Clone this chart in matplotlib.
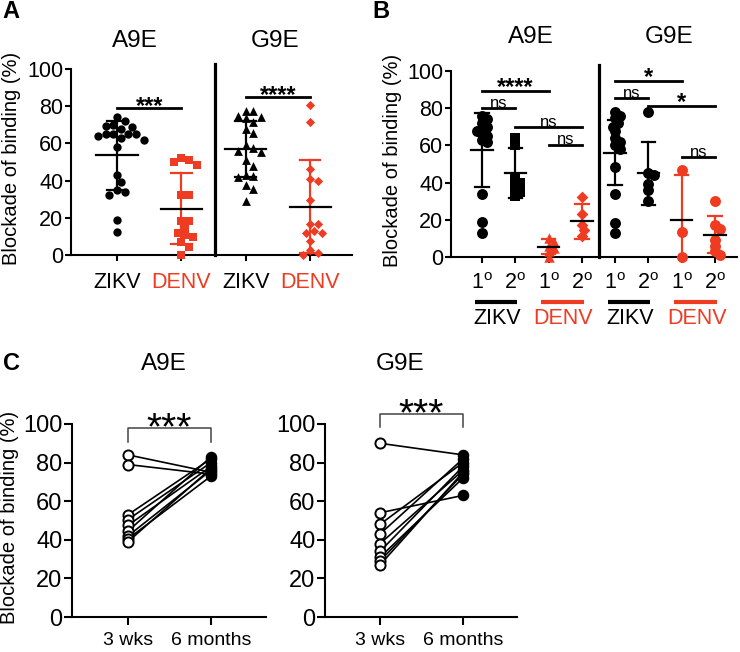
import numpy as np
import matplotlib
matplotlib.use('Agg')
import matplotlib.pyplot as plt

plt.rcParams['font.family'] = ['Liberation Sans', 'DejaVu Sans']
plt.rcParams['mathtext.fontset'] = 'custom'
plt.rcParams['mathtext.rm'] = 'Liberation Sans'

RED = '#EE3B22'
W, H = 740, 652

# ---- panel A data (blockade of binding %) ----
a_groups = ['ZIKV', 'DENV', 'ZIKV', 'DENV']
a9e_zikv = [74, 72, 70, 69.5, 69, 68, 65, 65, 65, 65, 64, 63, 62, 58, 43, 39, 35, 34, 32, 19, 12.5]
a9e_denv = [52, 51, 50, 48.5, 32.5, 32.5, 18.5, 18.5, 15, 12, 10.5, 9.5, 6.8, 4.5, 0]
g9e_zikv = [77.6, 77.6, 74.7, 74.4, 73.5, 71.7, 68, 65.4, 59, 57.3, 56, 55.6, 51, 47.8, 43, 42.5,
            41.8, 37.6, 35.3, 29.2]
g9e_denv = [80.5, 71.5, 46.5, 41, 40, 29.5, 16.5, 16.5, 13, 12, 12, 7.5, 2.7, 1, 0]
a_means = [53.5, 25, 57, 26]
a_sds = [18.5, 19.2, 15, 25]

# ---- panel B data: 1st / 2nd infection ----
b_ticks = ['1', '2', '1', '2', '1', '2', '1', '2']
b_virus = ['ZIKV', 'DENV', 'ZIKV', 'DENV']
b_vals = [
    [76, 74, 72, 70, 69, 68, 66, 65, 63, 62, 34, 19, 13],   # A9E ZIKV 1o
    [64, 60, 42, 40, 37, 35, 33],                            # A9E ZIKV 2o
    [10, 8, 6, 5, 3, 0],                                     # A9E DENV 1o
    [32, 23, 17, 14.5, 11.5],                                # A9E DENV 2o
    [78, 76, 74.5, 72, 70, 67.5, 64, 62, 60, 58, 48.5, 34, 18.5, 13],  # G9E ZIKV 1o
    [78, 45, 44, 39, 36, 30],                                # G9E ZIKV 2o
    [47, 13.5, 0],                                           # G9E DENV 1o
    [30, 17, 15, 9, 6, 3, 1],                                # G9E DENV 2o
]
b_means = [57.5, 45, 5.5, 19.2, 56, 45, 20, 12]
b_sds = [20, 13.5, 4, 9.3, 17.5, 17, 24, 10]

# ---- panel C data: paired 3 wks vs 6 months ----
c_times = ['3 wks', '6 months']
c_a9e_3w = [84, 79, 53, 50.5, 47.5, 44.5, 42, 40.5, 39]
c_a9e_6m = [75, 74, 82, 80, 78, 83, 76, 73, 77]
c_g9e_3w = [90, 54, 48, 43, 38, 34, 31, 29, 27]
c_g9e_6m = [84, 63, 80, 82, 76, 78, 72, 74, 75]


def fx(x):
    return x / W


def fy(y):
    return 1 - y / H


def swarm(vals, x0, px_x, px_y, d, step):
    # simple beeswarm: spread points that would overlap
    vals = np.asarray(vals, float)
    placed = []
    off = np.zeros(len(vals))
    cands = [0.0]
    for j in range(1, 30):
        cands += [j * step, -j * step]
    for i in np.argsort(-vals):
        y = vals[i] * px_y
        for c in cands:
            if all((c - px) ** 2 + (y - py) ** 2 >= d ** 2 for px, py in placed):
                break
        placed.append((c, y))
        off[i] = c
    return x0 + off / px_x


def style_axes(ax, lw=1.5):
    for s in ['top', 'right']:
        ax.spines[s].set_visible(False)
    for s in ['left', 'bottom']:
        ax.spines[s].set_linewidth(lw)
    ax.tick_params(width=lw, length=4.5)


def sd_bar(ax, x, m, sd, color, hw=0.32, cw=0.16, lw=1.6):
    ax.plot([x, x], [max(m - sd, 0), m + sd], color=color, lw=lw, zorder=4)
    ax.plot([x - cw, x + cw], [m + sd, m + sd], color=color, lw=lw, zorder=4)
    if m - sd > 0:
        ax.plot([x - cw, x + cw], [m - sd, m - sd], color=color, lw=lw, zorder=4)
    ax.plot([x - hw, x + hw], [m, m], color='black', lw=lw, zorder=4)


def sig(ax, x1, x2, y, txt, size=17, weight='bold', dy=-3.5, lw=2):
    ax.plot([x1, x2], [y, y], color='black', lw=lw, clip_on=False, zorder=5)
    ax.annotate(txt, xy=((x1 + x2) / 2, y), xytext=(0, dy), textcoords='offset points',
                ha='center', va='baseline', fontsize=size, fontweight=weight,
                annotation_clip=False)


fig = plt.figure(figsize=(7.4, 6.52), dpi=100)

# ================= Panel A =================
axA = fig.add_axes([fx(71), fy(255), 281 / W, 186 / H])
style_axes(axA)
axA.set_xlim(0.285, 4.65)
axA.set_ylim(0, 100)
axA.set_yticks(range(0, 101, 20))
axA.set_xticks([1, 2, 3, 4])
axA.set_xticklabels(a_groups)
for lab, c in zip(axA.get_xticklabels(), ['black', RED, 'black', RED]):
    lab.set_color(c)
axA.tick_params(axis='both', labelsize=15.5)
axA.tick_params(axis='x', pad=8)
axA.tick_params(axis='y', pad=1)

pxA = 64.3
pyA = 1.86
a_sets = [(a9e_zikv, 'o', 'black'), (a9e_denv, 's', RED),
          (g9e_zikv, '^', 'black'), (g9e_denv, 'D', RED)]
for i, (vals, mk, col) in enumerate(a_sets):
    xs = swarm(vals, i + 1, pxA, pyA, 7.5, 3.8)
    ms = {'o': 36, 's': 34, '^': 40, 'D': 22}[mk]
    axA.scatter(xs, vals, marker=mk, s=ms, color=col, linewidths=0, zorder=3, clip_on=False)
    sd_bar(axA, i + 1, a_means[i], a_sds[i], col)

axA.plot([2.52, 2.52], [0, 102.7], color='black', lw=2.3, clip_on=False)
sig(axA, 1, 2, 79, '***')
sig(axA, 3, 4, 85, '****')

fig.text(fx(135), fy(41), 'A9E', ha='center', va='center', fontsize=17.5)
fig.text(fx(275), fy(41), 'G9E', ha='center', va='center', fontsize=17.5)
fig.text(fx(12), fy(158), 'Blockade of binding (%)', rotation=90, ha='center', va='center',
         fontsize=14.5)
fig.text(fx(2), fy(12), 'A', ha='left', va='center', fontsize=17, fontweight='bold')

# ================= Panel B =================
axB = fig.add_axes([fx(451), fy(257), 286 / W, 186 / H])
style_axes(axB)
axB.set_xlim(0.07, 8.66)
axB.set_ylim(0, 100)
axB.set_yticks(range(0, 101, 20))
axB.set_xticks(range(1, 9))
axB.set_xticklabels([t + r'$^{\mathrm{o}}$' for t in b_ticks])
axB.tick_params(axis='both', labelsize=15.5)
axB.tick_params(axis='x', pad=7)
axB.tick_params(axis='y', pad=1)

pxB = 33.3
b_marks = ['o', 's', '^', 'D', 'o', 'o', 'o', 'o']
b_cols = ['black', 'black', RED, RED, 'black', 'black', RED, RED]
for i, vals in enumerate(b_vals):
    xs = swarm(vals, i + 1, pxB, pyA, 4.8, 2.6)
    mk = b_marks[i]
    ms = {'o': 62, 's': 54, '^': 56, 'D': 36}[mk]
    axB.scatter(xs, vals, marker=mk, s=ms, color=b_cols[i], linewidths=0, zorder=3,
                clip_on=False)
    sd_bar(axB, i + 1, b_means[i], b_sds[i], b_cols[i], hw=0.32, cw=0.2)

axB.plot([4.51, 4.51], [0, 103], color='black', lw=2.3, clip_on=False)
sig(axB, 1, 3, 89.4, '****', dy=-2.5)
sig(axB, 1, 2, 80, 'ns', size=12, weight='normal', dy=0.5)
sig(axB, 2, 4, 69.7, 'ns', size=12, weight='normal', dy=0.5)
sig(axB, 3, 4, 60.2, 'ns', size=12, weight='normal', dy=0.5)
sig(axB, 5, 7, 94.8, '*', dy=-2.5)
sig(axB, 5, 6, 85.3, 'ns', size=12, weight='normal', dy=0.5)
sig(axB, 6, 8, 81.4, '*', dy=-2.5)
sig(axB, 7, 8, 53.6, 'ns', size=12, weight='normal', dy=0.5)

tr = axB.get_xaxis_transform()
for k, name in enumerate(b_virus):
    c = 1.5 + 2 * k
    col = 'black' if name == 'ZIKV' else RED
    axB.plot([c - 0.72, c + 0.55], [-0.242, -0.242], color=col, lw=3, transform=tr,
             clip_on=False, solid_capstyle='butt')
    axB.text(c - 0.05, -0.33, name, color=col, transform=tr, ha='center', va='center',
             fontsize=15.5)

fig.text(fx(531), fy(37), 'A9E', ha='center', va='center', fontsize=17.5)
fig.text(fx(669), fy(37), 'G9E', ha='center', va='center', fontsize=17.5)
fig.text(fx(393), fy(160), 'Blockade of binding (%)', rotation=90, ha='center', va='center',
         fontsize=14.5)
fig.text(fx(372), fy(12), 'B', ha='left', va='center', fontsize=17, fontweight='bold')


# ================= Panel C =================
def paired(ax, v3, v6, ybr, ytick):
    style_axes(ax)
    ax.set_ylim(0, 100)
    ax.set_yticks(range(0, 101, 20))
    ax.set_xticks([0, 1])
    ax.set_xticklabels(c_times)
    ax.tick_params(axis='y', labelsize=17, pad=1, length=6)
    ax.tick_params(axis='x', labelsize=14, pad=5, length=6)
    for a, b in zip(v3, v6):
        ax.plot([0, 1], [a, b], color='black', lw=1.2, zorder=2)
    ax.plot(np.zeros(len(v3)), v3, 'o', ms=7.3, mfc='white', mec='black', mew=1.4,
            zorder=3, clip_on=False)
    ax.plot(np.ones(len(v6)), v6, 'o', ms=7.3, mfc='black', mec='black', zorder=3,
            clip_on=False)
    ax.plot([0, 0, 1, 1], [ytick, ybr, ybr, ytick], color='#444444', lw=1.1, clip_on=False)
    ax.annotate('***', xy=(0.5, ybr), xytext=(0, -8), textcoords='offset points',
                ha='center', va='baseline', fontsize=28, annotation_clip=False)


axC1 = fig.add_axes([fx(72), fy(617), 194 / W, 193 / H])
axC1.set_xlim(-0.675, 1.663)
paired(axC1, c_a9e_3w, c_a9e_6m, 98, 90.8)

axC2 = fig.add_axes([fx(325), fy(617), 192 / W, 193 / H])
axC2.set_xlim(-0.663, 1.65)
paired(axC2, c_g9e_3w, c_g9e_6m, 105, 98.2)

fig.text(fx(164), fy(364), 'A9E', ha='center', va='center', fontsize=17.5)
fig.text(fx(400), fy(364), 'G9E', ha='center', va='center', fontsize=17.5)
fig.text(fx(10), fy(517), 'Blockade of binding (%)', rotation=90, ha='center', va='center',
         fontsize=14.5)
fig.text(fx(3), fy(364), 'C', ha='left', va='center', fontsize=17, fontweight='bold')

fig.savefig('out.png', dpi=100)
